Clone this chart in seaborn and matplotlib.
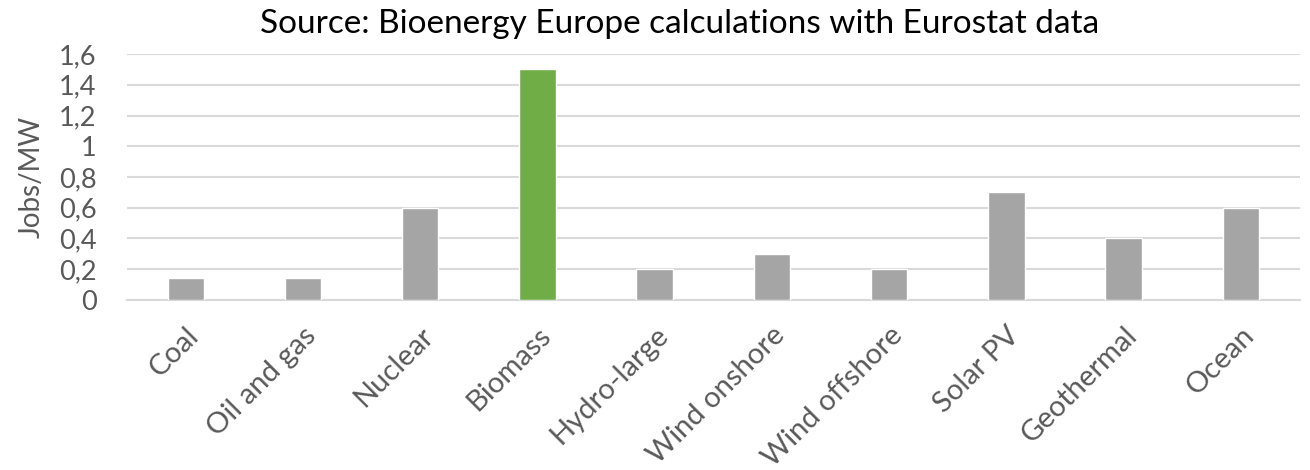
import matplotlib
matplotlib.use('Agg')
import matplotlib.pyplot as plt
import seaborn as sns
import pandas as pd

# Chart data
categories = ['Coal', 'Oil and gas', 'Nuclear', 'Biomass', 'Hydro-large',
              'Wind onshore', 'Wind offshore', 'Solar PV', 'Geothermal', 'Ocean']
jobs_per_mw = [0.14, 0.14, 0.6, 1.5, 0.2, 0.3, 0.2, 0.7, 0.4, 0.6]
y_ticks = [0, 0.2, 0.4, 0.6, 0.8, 1.0, 1.2, 1.4, 1.6]
y_tick_labels = ['0', '0,2', '0,4', '0,6', '0,8', '1', '1,2', '1,4', '1,6']

df = pd.DataFrame({'Source': categories, 'Jobs': jobs_per_mw})
bar_colors = ['#70AD47' if c == 'Biomass' else '#A5A5A5' for c in categories]

sns.set_style('white')
plt.rcParams['font.family'] = ['Lato', 'DejaVu Sans']
text_color = '#595959'

fig = plt.figure(figsize=(13.1, 4.7), dpi=100)
ax = fig.add_axes([0.097, 0.362, 0.895, 0.523])

sns.barplot(data=df, x='Source', y='Jobs', hue='Source', palette=bar_colors,
            legend=False, width=0.31, saturation=1, ax=ax, zorder=3)

ax.set_ylim(0, 1.6)
ax.set_yticks(y_ticks)
ax.set_yticklabels(y_tick_labels)
ax.yaxis.grid(True, color='#D9D9D9', linewidth=1.5, zorder=0)
ax.set_axisbelow(True)
for side in ['top', 'right', 'left']:
    ax.spines[side].set_visible(False)
ax.spines['bottom'].set_color('#D9D9D9')
ax.spines['bottom'].set_linewidth(1.5)

ax.tick_params(axis='y', length=0, labelsize=19.5, colors=text_color, pad=22)
ax.tick_params(axis='x', length=0, labelsize=21, colors=text_color, pad=16)
plt.setp(ax.get_xticklabels(), rotation=45, ha='right', rotation_mode='anchor')

ax.set_xlabel('')
ax.set_ylabel('Jobs/MW', fontsize=20, color=text_color, labelpad=10)
ax.set_title('Source: Bioenergy Europe calculations with Eurostat data',
             fontsize=24, color='black', pad=15, x=0.471)

fig.savefig('out.png', dpi=100)
